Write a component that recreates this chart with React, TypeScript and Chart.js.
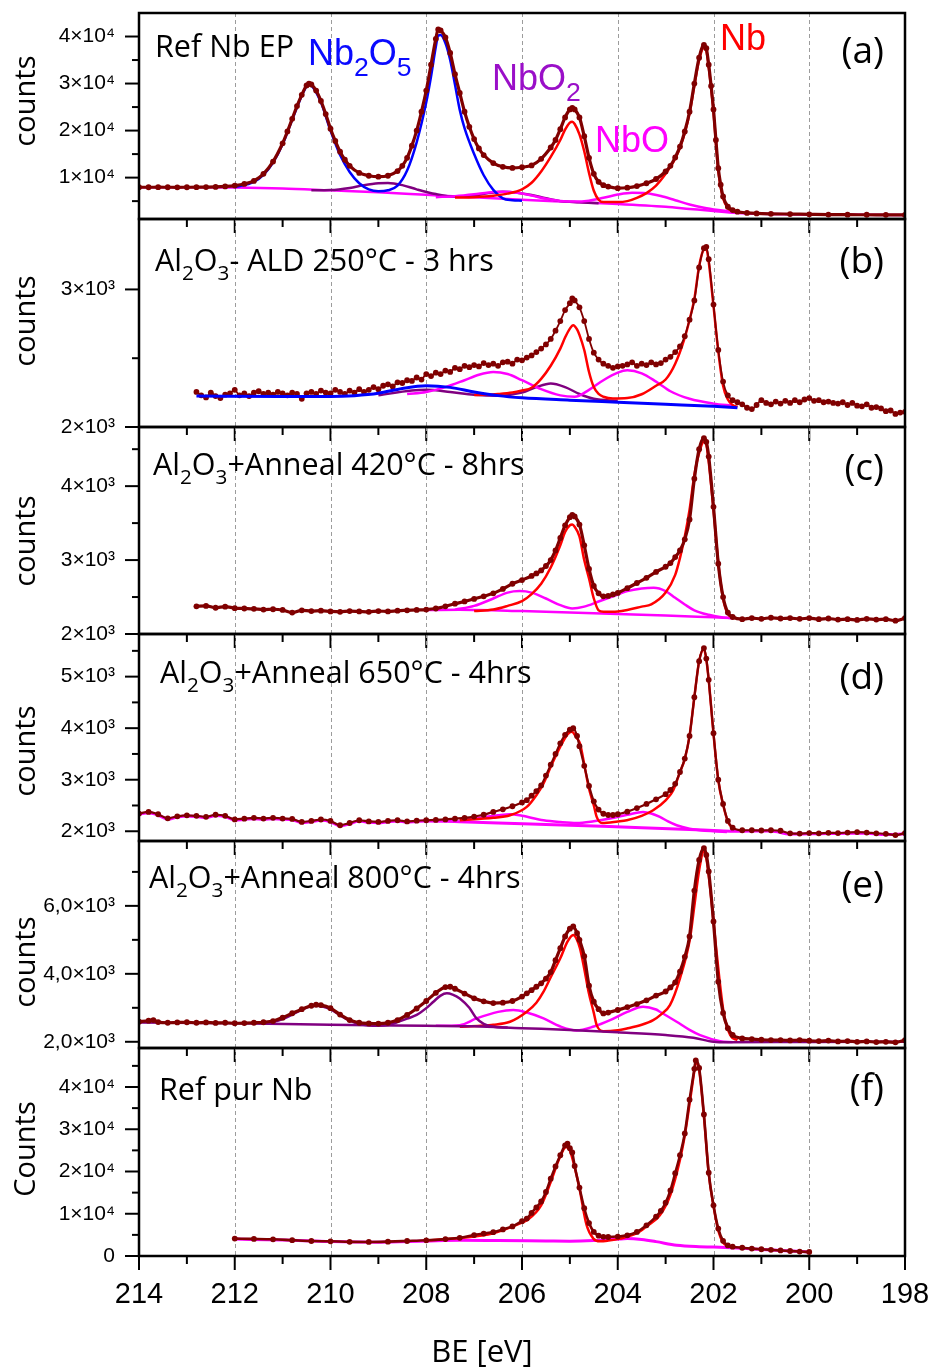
import React, { useEffect, useRef } from 'react';
import { Chart, registerables } from 'chart.js';
Chart.register(...registerables);

// ---------------- data (binding energy [eV], counts) ----------------
const aData: [number, number][] = [[214.0,7950],[213.8,7950],[213.6,7960],[213.4,7950],[213.2,7940],[213.0,7950],[212.8,7960],[212.6,7980],[212.4,8020],[212.2,8120],[212.0,8300],[211.8,8650],[211.6,9300],[211.4,10800],[211.2,13400],[211.0,17300],[210.9,19800],[210.8,22500],[210.7,25200],[210.6,27600],[210.5,29600],[210.45,30000],[210.4,29800],[210.3,28500],[210.2,26300],[210.1,23500],[210.0,20400],[209.9,17800],[209.8,15500],[209.7,13800],[209.6,12500],[209.4,11000],[209.2,10400],[209.0,10200],[208.8,10400],[208.6,11400],[208.5,12500],[208.4,14200],[208.3,16800],[208.2,20000],[208.1,24000],[208.0,28500],[207.9,34000],[207.8,39500],[207.75,41500],[207.7,41300],[207.6,39800],[207.5,36500],[207.4,32000],[207.3,28000],[207.2,24000],[207.1,20800],[207.0,18200],[206.9,16200],[206.8,14800],[206.6,13100],[206.4,12300],[206.2,12050],[206.0,12200],[205.8,12600],[205.6,14000],[205.4,16400],[205.3,18000],[205.2,20300],[205.1,22800],[205.0,24500],[204.95,24800],[204.9,24500],[204.8,22800],[204.7,18800],[204.6,14200],[204.5,10800],[204.4,9100],[204.3,8400],[204.2,8100],[204.0,7750],[203.8,7850],[203.6,8200],[203.4,8800],[203.2,9700],[203.0,11300],[202.9,12500],[202.8,14300],[202.7,16600],[202.6,19800],[202.5,24000],[202.4,30000],[202.3,35500],[202.2,38200],[202.15,37500],[202.1,34000],[202.05,29500],[202.0,24500],[201.95,18000],[201.9,12000],[201.85,8500],[201.8,6000],[201.7,3800],[201.6,3100],[201.5,2750],[201.3,2500],[201.1,2380],[200.8,2300],[200.4,2250],[200.0,2200],[199.6,2150],[199.2,2120],[198.8,2100],[198.4,2080],[198.0,2060]];
const aNb2O5: [number, number][] = [[212.0,7950],[211.6,9100],[211.4,10600],[211.2,13200],[211.0,17100],[210.8,22300],[210.6,27400],[210.5,29400],[210.45,29800],[210.4,29600],[210.2,26000],[210.0,20000],[209.8,14800],[209.6,11200],[209.4,8800],[209.2,7500],[209.0,7100],[208.8,7300],[208.6,8300],[208.4,11500],[208.2,17500],[208.0,26000],[207.9,31500],[207.8,37800],[207.75,40200],[207.7,40300],[207.6,38600],[207.5,35000],[207.4,29800],[207.3,24400],[207.2,20500],[207.0,15000],[206.8,10500],[206.6,7400],[206.4,5600],[206.2,5200],[206.0,5100]];
const aNbO2: [number, number][] = [[210.4,7300],[210.0,7350],[209.6,7800],[209.3,8400],[209.0,8800],[208.8,8850],[208.5,8400],[208.2,7500],[207.8,6500],[207.4,5950],[207.0,6150],[206.7,6700],[206.4,7000],[206.1,6800],[205.8,6300],[205.5,5600],[205.2,5000],[204.8,4750],[204.4,4550]];
const aNbO: [number, number][] = [[207.8,5850],[207.4,6050],[207.0,6450],[206.7,6850],[206.4,7000],[206.1,6800],[205.8,6200],[205.5,5500],[205.2,5050],[204.9,4900],[204.6,5100],[204.3,5700],[204.0,6400],[203.7,6800],[203.4,6700],[203.1,6100],[202.8,5200],[202.5,4300],[202.2,3600],[201.9,3100],[201.6,2700],[201.3,2450]];
const aNb: [number, number][] = [[207.4,5750],[207.0,5850],[206.6,6150],[206.3,6600],[206.0,7500],[205.8,8900],[205.6,11300],[205.4,14400],[205.2,18000],[205.1,20200],[205.0,21700],[204.95,21900],[204.9,21400],[204.8,19200],[204.7,15600],[204.6,11000],[204.5,7200],[204.4,5300],[204.3,4800],[204.0,4800],[203.8,5000],[203.6,5700],[203.4,6700],[203.2,8300],[203.0,10800],[202.8,14000],[202.7,16400],[202.6,19500],[202.5,23700],[202.4,29500],[202.3,35000],[202.2,37600],[202.15,37000],[202.1,33500],[202.05,29000],[202.0,24000],[201.95,17500],[201.9,11500],[201.85,8000],[201.8,5600],[201.7,3500],[201.6,2900],[201.4,2550]];
const aBg: [number, number][] = [[214.0,7950],[213.0,7950],[212.0,7900],[211.0,7700],[210.0,7300],[209.0,6900],[208.0,6350],[207.0,5800],[206.0,5300],[205.0,4850],[204.0,4400],[203.0,3800],[202.5,3350],[202.0,2900],[201.5,2500],[201.0,2300],[200.0,2150],[199.0,2080],[198.0,2050]];

const bData: [number, number][] = [[212.8,2255],[212.7,2230],[212.6,2215],[212.5,2250],[212.4,2225],[212.3,2210],[212.2,2235],[212.1,2245],[212.0,2270],[211.9,2230],[211.8,2245],[211.7,2225],[211.6,2250],[211.5,2260],[211.4,2240],[211.3,2250],[211.2,2235],[211.1,2255],[211.0,2245],[210.9,2230],[210.8,2250],[210.7,2240],[210.6,2205],[210.5,2245],[210.4,2255],[210.3,2240],[210.2,2265],[210.1,2250],[210.0,2245],[209.9,2270],[209.8,2255],[209.7,2240],[209.6,2265],[209.5,2250],[209.4,2275],[209.3,2255],[209.2,2270],[209.1,2290],[209.0,2275],[208.9,2300],[208.8,2310],[208.7,2295],[208.6,2325],[208.5,2320],[208.4,2340],[208.3,2335],[208.2,2360],[208.1,2345],[208.0,2385],[207.9,2370],[207.8,2395],[207.7,2385],[207.6,2410],[207.5,2400],[207.4,2430],[207.3,2420],[207.2,2445],[207.1,2435],[207.0,2450],[206.9,2440],[206.8,2465],[206.7,2450],[206.6,2460],[206.5,2445],[206.4,2470],[206.3,2475],[206.2,2460],[206.1,2490],[206.0,2485],[205.9,2505],[205.8,2520],[205.7,2545],[205.6,2570],[205.5,2600],[205.4,2640],[205.3,2700],[205.2,2770],[205.1,2850],[205.0,2900],[204.95,2935],[204.9,2920],[204.8,2870],[204.7,2770],[204.6,2640],[204.5,2540],[204.4,2490],[204.3,2460],[204.2,2445],[204.1,2430],[204.0,2440],[203.9,2445],[203.8,2455],[203.7,2470],[203.6,2445],[203.5,2460],[203.4,2450],[203.3,2470],[203.2,2455],[203.1,2465],[203.0,2490],[202.9,2510],[202.8,2545],[202.7,2585],[202.6,2660],[202.5,2780],[202.4,2920],[202.3,3160],[202.2,3300],[202.15,3310],[202.1,3220],[202.0,2890],[201.9,2560],[201.8,2330],[201.7,2230],[201.6,2195],[201.5,2180],[201.4,2165],[201.3,2140],[201.2,2130],[201.1,2160],[201.0,2195],[200.9,2175],[200.8,2165],[200.7,2185],[200.6,2170],[200.5,2190],[200.4,2175],[200.3,2195],[200.2,2180],[200.1,2200],[200.0,2210],[199.9,2190],[199.8,2195],[199.7,2180],[199.6,2185],[199.5,2175],[199.4,2170],[199.3,2180],[199.2,2160],[199.1,2175],[199.0,2155],[198.9,2150],[198.8,2165],[198.7,2140],[198.6,2145],[198.5,2135],[198.4,2115],[198.3,2120],[198.2,2095],[198.1,2105],[198.0,2110]];
const bNb2O5: [number, number][] = [[212.8,2225],[211.0,2222],[210.0,2222],[209.5,2228],[209.0,2245],[208.5,2280],[208.0,2300],[207.5,2288],[207.0,2255],[206.5,2228],[206.0,2212],[205.0,2195],[204.0,2180],[203.0,2165],[202.0,2150],[201.5,2140]];
const bNbO: [number, number][] = [[208.4,2240],[208.0,2255],[207.6,2290],[207.2,2340],[206.9,2380],[206.6,2400],[206.3,2385],[206.0,2340],[205.6,2275],[205.2,2230],[204.9,2220],[204.6,2270],[204.3,2340],[204.0,2395],[203.8,2412],[203.5,2390],[203.2,2330],[202.9,2260],[202.5,2205],[202.0,2170],[201.6,2155]];
const bNbO2: [number, number][] = [[209.0,2230],[208.3,2265],[208.0,2270],[207.5,2255],[207.0,2235],[206.5,2228],[206.0,2250],[205.7,2290],[205.4,2316],[205.1,2290],[204.8,2240],[204.5,2205],[204.0,2190]];
const bNb: [number, number][] = [[207.0,2232],[206.5,2240],[206.2,2250],[206.0,2265],[205.8,2285],[205.6,2350],[205.4,2445],[205.2,2570],[205.1,2650],[205.0,2715],[204.93,2740],[204.85,2710],[204.8,2670],[204.7,2560],[204.6,2400],[204.5,2290],[204.4,2240],[204.3,2220],[204.1,2207],[203.8,2210],[203.5,2238],[203.2,2300],[203.0,2345],[202.8,2460],[202.6,2650],[202.5,2780],[202.4,2930],[202.3,3170],[202.2,3290],[202.15,3295],[202.1,3200],[202.0,2880],[201.9,2550],[201.8,2300],[201.7,2200],[201.6,2160],[201.5,2145]];

const cData: [number, number][] = [[212.8,2375],[212.6,2380],[212.4,2355],[212.2,2370],[212.0,2350],[211.8,2345],[211.6,2340],[211.4,2330],[211.2,2335],[211.0,2325],[210.8,2290],[210.6,2320],[210.4,2310],[210.2,2315],[210.0,2305],[209.8,2300],[209.6,2310],[209.4,2305],[209.2,2300],[209.0,2310],[208.8,2305],[208.6,2315],[208.4,2320],[208.2,2325],[208.0,2330],[207.8,2345],[207.6,2375],[207.4,2410],[207.2,2440],[207.0,2475],[206.8,2510],[206.6,2550],[206.4,2610],[206.2,2680],[206.0,2730],[205.8,2785],[205.7,2820],[205.6,2860],[205.5,2920],[205.4,3000],[205.3,3130],[205.2,3300],[205.1,3470],[205.0,3580],[204.95,3612],[204.9,3590],[204.8,3480],[204.7,3200],[204.6,2880],[204.5,2650],[204.4,2550],[204.3,2510],[204.2,2515],[204.1,2535],[204.0,2555],[203.8,2620],[203.6,2690],[203.4,2760],[203.2,2840],[203.0,2910],[202.9,2960],[202.8,3040],[202.7,3130],[202.6,3280],[202.5,3550],[202.4,4100],[202.3,4500],[202.2,4650],[202.15,4600],[202.1,4400],[202.0,3720],[201.9,2950],[201.8,2500],[201.7,2290],[201.6,2230],[201.4,2200],[201.2,2215],[201.0,2205],[200.8,2220],[200.6,2210],[200.4,2215],[200.2,2205],[200.0,2215],[199.8,2200],[199.6,2210],[199.4,2195],[199.2,2200],[199.0,2190],[198.8,2205],[198.6,2195],[198.4,2200],[198.2,2180],[198.0,2215]];
const cNb: [number, number][] = [[207.0,2310],[206.6,2330],[206.3,2380],[206.0,2445],[205.8,2540],[205.6,2680],[205.4,2900],[205.2,3200],[205.1,3380],[205.0,3470],[204.95,3480],[204.9,3450],[204.8,3320],[204.7,3000],[204.6,2750],[204.5,2480],[204.4,2320],[204.3,2300],[204.0,2305],[203.8,2325],[203.5,2370],[203.3,2400],[203.0,2560],[202.8,2800],[202.7,3030],[202.6,3320],[202.5,3680],[202.4,4150],[202.3,4450],[202.2,4600],[202.15,4560],[202.1,4330],[202.0,3680],[201.9,2960],[201.8,2480],[201.7,2270],[201.6,2230]];
const cNbO: [number, number][] = [[207.4,2330],[207.0,2380],[206.6,2480],[206.3,2560],[206.05,2580],[205.8,2560],[205.5,2480],[205.2,2390],[204.95,2345],[204.7,2370],[204.4,2440],[204.1,2510],[203.8,2580],[203.5,2615],[203.25,2625],[203.0,2580],[202.8,2490],[202.6,2400],[202.4,2320],[202.1,2260],[201.8,2225],[201.6,2215]];
const cBg: [number, number][] = [[208.0,2325],[207.3,2328],[206.0,2310],[205.0,2290],[204.0,2270],[203.0,2250],[202.0,2225],[201.6,2215]];

const dData: [number, number][] = [[214.0,2344],[213.8,2376],[213.6,2330],[213.4,2250],[213.2,2290],[213.0,2310],[212.8,2300],[212.6,2280],[212.4,2320],[212.2,2300],[212.0,2230],[211.8,2245],[211.6,2260],[211.4,2247],[211.2,2260],[211.0,2247],[210.8,2240],[210.6,2181],[210.4,2200],[210.2,2228],[210.0,2200],[209.8,2117],[209.6,2160],[209.4,2214],[209.2,2190],[209.0,2181],[208.8,2200],[208.6,2214],[208.4,2190],[208.2,2205],[208.0,2214],[207.8,2220],[207.6,2230],[207.4,2245],[207.2,2260],[207.0,2285],[206.8,2320],[206.6,2376],[206.4,2425],[206.2,2485],[206.0,2560],[205.9,2603],[205.8,2690],[205.7,2780],[205.6,2890],[205.5,3080],[205.4,3290],[205.3,3500],[205.2,3706],[205.1,3870],[205.0,3970],[204.93,3998],[204.85,3850],[204.8,3650],[204.7,3270],[204.6,2880],[204.5,2580],[204.4,2420],[204.3,2340],[204.2,2315],[204.1,2315],[204.0,2330],[203.8,2380],[203.6,2450],[203.4,2530],[203.2,2620],[203.0,2720],[202.9,2800],[202.8,2920],[202.7,3150],[202.6,3410],[202.5,3850],[202.4,4600],[202.3,5300],[202.2,5554],[202.15,5350],[202.1,4938],[202.0,3901],[201.9,3000],[201.8,2530],[201.7,2200],[201.6,2070],[201.4,2020],[201.2,2020],[201.0,2015],[200.8,2020],[200.6,2010],[200.4,1960],[200.2,1955],[200.0,1965],[199.8,1960],[199.6,1970],[199.4,1965],[199.2,1975],[199.0,1985],[198.8,1975],[198.6,1960],[198.4,1950],[198.2,1925],[198.0,1965]];
const dNb: [number, number][] = [[207.3,2214],[206.6,2260],[206.25,2311],[205.9,2473],[205.7,2700],[205.55,2928],[205.4,3250],[205.2,3640],[205.05,3880],[204.96,3932],[204.85,3800],[204.79,3706],[204.7,3300],[204.61,2862],[204.5,2500],[204.44,2279],[204.33,2161],[204.0,2190],[203.81,2214],[203.5,2300],[203.26,2408],[203.0,2600],[202.84,2798],[202.7,3150],[202.6,3400],[202.5,3850],[202.4,4600],[202.3,5300],[202.2,5530],[202.15,5330],[202.1,4930],[202.0,3890],[201.9,2990],[201.8,2520],[201.7,2190],[201.6,2050]];
const dNbO: [number, number][] = [[207.3,2214],[206.9,2260],[206.5,2310],[206.25,2331],[206.0,2300],[205.55,2214],[205.2,2180],[204.86,2161],[204.5,2195],[204.16,2247],[203.8,2320],[203.47,2376],[203.3,2345],[203.12,2279],[202.95,2190],[202.77,2117],[202.5,2050],[202.28,2019],[202.0,2000],[201.72,1987]];
const dBg: [number, number][] = [[214.0,2330],[213.8,2360],[213.6,2315],[213.4,2235],[213.2,2275],[213.0,2295],[212.8,2285],[212.6,2265],[212.4,2305],[212.2,2285],[212.0,2215],[211.8,2230],[211.6,2245],[211.4,2232],[211.2,2245],[211.0,2232],[210.8,2225],[210.6,2166],[210.4,2185],[210.2,2213],[210.0,2185],[209.8,2102],[209.6,2145],[209.4,2199],[209.2,2175],[209.0,2166],[208.8,2185],[208.6,2199],[208.4,2175],[208.2,2190],[208.0,2199],[207.6,2195],[207.3,2185],[206.5,2160],[205.5,2130],[204.5,2100],[203.5,2070],[202.5,2035],[202.0,2015],[201.6,2000],[201.2,2005],[200.8,2005],[200.4,1945],[200.0,1950],[199.6,1955],[199.2,1960],[198.8,1960],[198.4,1935],[198.0,1950]];

const eData: [number, number][] = [[214.0,2590],[213.8,2620],[213.7,2640],[213.6,2580],[213.4,2560],[213.2,2570],[213.0,2575],[212.8,2560],[212.6,2570],[212.4,2555],[212.2,2560],[212.0,2545],[211.8,2550],[211.6,2560],[211.4,2575],[211.2,2610],[211.0,2710],[210.8,2840],[210.6,2960],[210.4,3060],[210.3,3090],[210.2,3080],[210.0,2990],[209.8,2800],[209.6,2640],[209.4,2560],[209.2,2540],[209.0,2535],[208.8,2560],[208.6,2640],[208.4,2790],[208.2,2980],[208.0,3200],[207.8,3440],[207.6,3610],[207.5,3620],[207.4,3560],[207.2,3420],[207.0,3280],[206.8,3190],[206.6,3140],[206.4,3150],[206.2,3200],[206.0,3330],[205.9,3425],[205.8,3520],[205.7,3620],[205.6,3720],[205.5,3860],[205.4,4050],[205.3,4400],[205.2,4752],[205.1,5100],[205.0,5330],[204.93,5393],[204.85,5200],[204.8,5000],[204.7,4520],[204.6,3650],[204.5,3180],[204.4,2960],[204.3,2835],[204.2,2860],[204.0,2935],[203.8,3020],[203.6,3110],[203.4,3220],[203.2,3360],[203.0,3480],[202.9,3600],[202.8,3750],[202.7,4065],[202.6,4500],[202.5,5100],[202.4,6450],[202.3,7350],[202.2,7700],[202.15,7500],[202.1,7015],[202.0,5540],[201.9,3770],[201.8,2850],[201.7,2400],[201.6,2200],[201.4,2100],[201.2,2080],[201.0,2060],[200.8,2050],[200.6,2050],[200.4,2040],[200.2,2050],[200.0,2030],[199.8,2020],[199.6,2035],[199.4,2010],[199.2,2020],[199.0,2000],[198.8,2010],[198.6,1990],[198.4,2000],[198.2,1985],[198.0,2047]];
const eNbO2: [number, number][] = [[211.5,2550],[211.2,2590],[211.0,2670],[210.8,2800],[210.6,2940],[210.45,3030],[210.3,3060],[210.15,3030],[210.0,2950],[209.8,2780],[209.6,2620],[209.4,2520],[209.2,2480],[209.0,2470],[208.8,2490],[208.6,2580],[208.4,2680],[208.2,2790],[208.0,2990],[207.85,3180],[207.7,3360],[207.57,3425],[207.45,3390],[207.3,3277],[207.1,3000],[206.95,2687],[206.8,2530],[206.6,2442],[206.3,2420]];
const eBg: [number, number][] = [[214.0,2570],[212.0,2545],[210.0,2500],[208.0,2470],[207.0,2455],[206.0,2400],[205.0,2350],[204.0,2280],[203.0,2200],[202.42,2118],[202.0,2000],[201.7,1985],[200.0,1995],[198.0,2000]];
const eNb: [number, number][] = [[207.3,2442],[206.6,2500],[206.25,2590],[205.9,2885],[205.7,3150],[205.55,3475],[205.4,3900],[205.2,4457],[205.05,4950],[204.93,5145],[204.85,5000],[204.79,4752],[204.7,4150],[204.61,3475],[204.5,2850],[204.44,2490],[204.3,2313],[204.0,2340],[203.81,2392],[203.5,2500],[203.26,2637],[203.1,2800],[202.91,3080],[202.7,3868],[202.49,5048],[202.4,6000],[202.3,7050],[202.2,7605],[202.15,7400],[202.07,6522],[201.93,4555],[201.79,2885],[201.65,2196],[201.5,2050]];
const eNbO: [number, number][] = [[207.8,2470],[207.3,2490],[206.95,2687],[206.5,2880],[206.18,2932],[205.9,2860],[205.55,2687],[205.2,2450],[204.86,2333],[204.5,2450],[204.16,2637],[203.8,2880],[203.47,3032],[203.2,2950],[203.12,2885],[202.77,2590],[202.5,2350],[202.28,2196],[201.86,2018],[201.6,1990]];

const fData: [number, number][] = [[212.0,4120],[211.6,4050],[211.2,3950],[210.8,3750],[210.4,3550],[210.0,3480],[209.6,3350],[209.2,3320],[208.8,3400],[208.4,3550],[208.0,3716],[207.6,4000],[207.3,4300],[207.0,4950],[206.8,5300],[206.6,5650],[206.4,6300],[206.2,7000],[206.0,8250],[205.9,8850],[205.8,10200],[205.7,11500],[205.6,12900],[205.5,15150],[205.4,18300],[205.3,21200],[205.2,23840],[205.1,26200],[205.05,26600],[205.0,25500],[204.95,24500],[204.9,21300],[204.8,16200],[204.7,11300],[204.6,7800],[204.5,5700],[204.4,4800],[204.3,4550],[204.2,4500],[204.0,4600],[203.8,4900],[203.6,5700],[203.4,7270],[203.2,9300],[203.1,10700],[203.0,12600],[202.9,15500],[202.8,19600],[202.7,23840],[202.6,29000],[202.5,37000],[202.4,44300],[202.37,46300],[202.3,44500],[202.2,33500],[202.1,19700],[202.0,12000],[201.9,6500],[201.8,3600],[201.7,2500],[201.6,2200],[201.4,1950],[201.2,1750],[201.0,1600],[200.8,1450],[200.6,1320],[200.4,1180],[200.2,1050],[200.0,950]];
const fNb: [number, number][] = [[208.0,3700],[207.3,4260],[206.6,5400],[206.0,7900],[205.9,8450],[205.6,12000],[205.4,17500],[205.2,23600],[205.08,25800],[205.0,25000],[204.9,21000],[204.8,16000],[204.65,7270],[204.51,4120],[204.37,3480],[204.2,3650],[203.95,4120],[203.6,5400],[203.4,7000],[203.12,9630],[202.9,14500],[202.7,22800],[202.6,28500],[202.5,36000],[202.4,43800],[202.37,45800],[202.3,44000],[202.2,33000],[202.1,19500],[202.0,11800],[201.9,6000],[201.8,3200],[201.7,2300]];
const fNbO: [number, number][] = [[212.0,4000],[211.0,3780],[210.0,3420],[209.0,3280],[208.0,3550],[207.3,3716],[206.5,3650],[205.5,3550],[205.0,3500],[204.5,3650],[204.0,4000],[203.8,4120],[203.5,3900],[203.2,3400],[202.77,2530],[202.3,2200],[202.0,2130],[201.5,1900],[201.0,1550],[200.5,1250],[200.0,950]];

// ---------------- axes ----------------
const X_MIN = 198, X_MAX = 214;
const X_MAJOR = [214, 212, 210, 208, 206, 204, 202, 200, 198];
const X_MINOR = [213, 211, 209, 207, 205, 203, 201, 199];
const X_GRID = [212, 210, 208, 206, 204, 202, 200];

const aYMajor = [10000, 20000, 30000, 40000];
const aYMinor = [5000, 15000, 25000, 35000];
const aYLabels = ['1×10⁴', '2×10⁴', '3×10⁴', '4×10⁴'];
const bYMajor = [2000, 3000];
const bYMinor = [2500];
const bYLabels = ['2×10³', '3×10³'];
const cYMajor = [2000, 3000, 4000];
const cYMinor = [2500, 3500, 4500];
const cYLabels = ['2×10³', '3×10³', '4×10³'];
const dYMajor = [2000, 3000, 4000, 5000];
const dYMinor = [2500, 3500, 4500, 5500];
const dYLabels = ['2×10³', '3×10³', '4×10³', '5×10³'];
const eYMajor = [2000, 4000, 6000];
const eYMinor = [3000, 5000, 7000];
const eYLabels = ['2,0×10³', '4,0×10³', '6,0×10³'];
const fYMajor = [0, 10000, 20000, 30000, 40000];
const fYMinor = [5000, 15000, 25000, 35000, 45000];
const fYLabels = ['0', '1×10⁴', '2×10⁴', '3×10⁴', '4×10⁴'];

// ---------------- styles / layout ----------------
const DARK = '#800000', RED = '#ff0000', MAG = '#ff00ff', PURP = '#800080', BLUE = '#0000ff';
const W = 934, LEFT = 139, RIGHT_PAD = 29, PAD_T = 15;
const SANS = '"Open Sans", "DejaVu Sans", sans-serif';
const ARIAL = '"Liberation Sans", Arial, sans-serif';

type Part = [string, boolean];
const al2o3 = (rest: string): Part[] => [['Al', false], ['2', true], ['O', false], ['3', true], [rest, false]];

const PANELS = [
  { top: 13, bottom: 219, yMin: 1200, yMax: 45000, major: aYMajor, minor: aYMinor, labels: aYLabels,
    series: [
      { pts: aBg, color: MAG, width: 2.5, order: 6 },
      { pts: aNbO2, color: PURP, width: 2.5, order: 5 },
      { pts: aNbO, color: MAG, width: 2.5, order: 4 },
      { pts: aNb2O5, color: BLUE, width: 2.5, order: 3 },
      { pts: aNb, color: RED, width: 2.5, order: 2 },
      { pts: aData, color: DARK, width: 3.2, order: 0, dots: true },
    ],
    title: [['Ref Nb EP', false]] as Part[], titleX: 155, titleY: 57, letter: '(a)', letterY: 63, yTitle: 'counts', yTitleY: 101,
    notes: [
      { parts: [['Nb', false], ['2', true], ['O', false], ['5', true]] as Part[], x: 308, y: 65, color: '#0a0aff' },
      { parts: [['NbO', false], ['2', true]] as Part[], x: 492, y: 90, color: '#9a0fc8' },
      { parts: [['NbO', false]] as Part[], x: 595, y: 152, color: '#ff00ff' },
      { parts: [['Nb', false]] as Part[], x: 720, y: 50, color: '#ff0000' },
    ] },
  { top: 219, bottom: 427, yMin: 2000, yMax: 3512, major: bYMajor, minor: bYMinor, labels: bYLabels,
    series: [
      { pts: bNbO2, color: PURP, width: 2.5, order: 5 },
      { pts: bNbO, color: MAG, width: 2.5, order: 4 },
      { pts: bNb, color: RED, width: 2.5, order: 3 },
      { pts: bData, color: DARK, width: 1.8, order: 1, dots: true },
      { pts: bNb2O5, color: BLUE, width: 3, order: 0 },
    ],
    title: al2o3('- ALD 250°C - 3 hrs'), titleX: 155, titleY: 271, letter: '(b)', letterY: 273, yTitle: 'counts', yTitleY: 321, notes: [] },
  { top: 427, bottom: 634, yMin: 2000, yMax: 4800, major: cYMajor, minor: cYMinor, labels: cYLabels,
    series: [
      { pts: cBg, color: MAG, width: 2.5, order: 5 },
      { pts: cNbO, color: MAG, width: 2.5, order: 4 },
      { pts: cNb, color: RED, width: 2.5, order: 3 },
      { pts: cData, color: DARK, width: 3.2, order: 0, dots: true },
    ],
    title: al2o3('+Anneal 420°C - 8hrs'), titleX: 153, titleY: 475, letter: '(c)', letterY: 480, yTitle: 'counts', yTitleY: 541, notes: [] },
  { top: 634, bottom: 841, yMin: 1811, yMax: 5827, major: dYMajor, minor: dYMinor, labels: dYLabels,
    series: [
      { pts: dBg, color: MAG, width: 3, order: 5 },
      { pts: dNbO, color: MAG, width: 2.5, order: 4 },
      { pts: dNb, color: RED, width: 2.5, order: 3 },
      { pts: dData, color: DARK, width: 2.2, order: 0, dots: true },
    ],
    title: al2o3('+Anneal 650°C - 4hrs'), titleX: 160, titleY: 683, letter: '(d)', letterY: 689, yTitle: 'counts', yTitleY: 751, notes: [] },
  { top: 841, bottom: 1048, yMin: 1817, yMax: 7909, major: eYMajor, minor: eYMinor, labels: eYLabels,
    series: [
      { pts: eNbO, color: MAG, width: 2.5, order: 5 },
      { pts: eNb, color: RED, width: 2.5, order: 4 },
      { pts: eBg, color: PURP, width: 2.5, order: 3 },
      { pts: eNbO2, color: PURP, width: 2.5, order: 2 },
      { pts: eData, color: DARK, width: 3.2, order: 0, dots: true },
    ],
    title: al2o3('+Anneal 800°C - 4hrs'), titleX: 149, titleY: 888, letter: '(e)', letterY: 897, yTitle: 'counts', yTitleY: 962, notes: [] },
  { top: 1048, bottom: 1256, yMin: 0, yMax: 49230, major: fYMajor, minor: fYMinor, labels: fYLabels,
    series: [
      { pts: fNbO, color: MAG, width: 3, order: 4 },
      { pts: fNb, color: RED, width: 2.5, order: 3 },
      { pts: fData, color: DARK, width: 2.6, order: 0, dots: true },
    ],
    title: [['Ref pur Nb', false]] as Part[], titleX: 159, titleY: 1100, letter: '(f)', letterY: 1100, yTitle: 'Counts', yTitleY: 1149, notes: [], last: true },
];

function drawParts(ctx: CanvasRenderingContext2D, parts: Part[], x: number, y: number, size: number, family: string, color: string, subScale: number, subDrop: number) {
  ctx.fillStyle = color;
  ctx.textAlign = 'left';
  ctx.textBaseline = 'alphabetic';
  let cx = x;
  for (const [t, sub] of parts) {
    const fs = sub ? size * subScale : size;
    ctx.font = `${fs}px ${family}`;
    ctx.fillText(t, cx, sub ? y + size * subDrop : y);
    cx += ctx.measureText(t).width;
  }
}

function makePlugin(p: any, canvasTop: number) {
  return {
    id: 'panelDecor',
    beforeDatasetsDraw(chart: any) {
      const { ctx, chartArea: a, scales } = chart;
      ctx.save();
      ctx.strokeStyle = '#9c9c9c';
      ctx.lineWidth = 1;
      ctx.setLineDash([4, 3]);
      for (const v of X_GRID) {
        const px = Math.round(scales.x.getPixelForValue(v)) + 0.5;
        ctx.beginPath();
        ctx.moveTo(px, a.top);
        ctx.lineTo(px, a.bottom);
        ctx.stroke();
      }
      ctx.restore();
    },
    afterDraw(chart: any) {
      const { ctx, chartArea: a, scales } = chart;
      ctx.save();
      ctx.strokeStyle = '#000';
      ctx.lineWidth = 2;
      const tick = (x1: number, y1: number, x2: number, y2: number) => {
        ctx.beginPath(); ctx.moveTo(x1, y1); ctx.lineTo(x2, y2); ctx.stroke();
      };
      for (const v of X_MAJOR) { const px = scales.x.getPixelForValue(v); tick(px, a.bottom, px, a.bottom + 14); }
      for (const v of X_MINOR) { const px = scales.x.getPixelForValue(v); tick(px, a.bottom, px, a.bottom + 8); }
      for (const v of p.major) { const py = scales.y.getPixelForValue(v); tick(a.left - 14, py, a.left, py); }
      for (const v of p.minor) { const py = scales.y.getPixelForValue(v); tick(a.left - 7, py, a.left, py); }
      ctx.lineWidth = 2.5;
      ctx.strokeRect(a.left, a.top, a.right - a.left, a.bottom - a.top);

      // texts
      drawParts(ctx, p.title, p.titleX, p.titleY - canvasTop, 30.5, SANS, '#000', 0.68, 0.3);
      ctx.font = `37px ${SANS}`;
      ctx.fillStyle = '#000';
      ctx.textAlign = 'right';
      ctx.textBaseline = 'alphabetic';
      ctx.fillText(p.letter, 884, p.letterY - canvasTop);
      for (const n of p.notes) drawParts(ctx, n.parts, n.x, n.y - canvasTop, 36, ARIAL, n.color, 0.74, 0.3);

      ctx.save();
      ctx.translate(35, p.yTitleY - canvasTop);
      ctx.rotate(-Math.PI / 2);
      ctx.font = `29px ${SANS}`;
      ctx.fillStyle = '#000';
      ctx.textAlign = 'center';
      ctx.textBaseline = 'alphabetic';
      ctx.fillText(p.yTitle, 0, 0);
      ctx.restore();

      if (p.last) {
        ctx.font = `31px ${SANS}`;
        ctx.fillStyle = '#000';
        ctx.textAlign = 'center';
        ctx.fillText('BE [eV]', 482, 1362 - canvasTop);
      }
      ctx.restore();
    },
  };
}

function Panel({ p }: { p: any }) {
  const ref = useRef<HTMLCanvasElement>(null);
  const padB = p.last ? 1369 - p.bottom : 22;
  const canvasTop = p.top - PAD_T;
  const h = p.bottom - p.top + PAD_T + padB;
  useEffect(() => {
    const labelMap = new Map<number, string>();
    p.major.forEach((v: number, i: number) => labelMap.set(v, p.labels[i]));
    const chart = new Chart(ref.current as HTMLCanvasElement, {
      type: 'scatter',
      data: {
        datasets: p.series.map((s: any) => ({
          data: s.pts.map(([x, y]: [number, number]) => ({ x, y })),
          showLine: true,
          borderColor: s.color,
          backgroundColor: s.color,
          borderWidth: s.width,
          pointRadius: s.dots ? 2.9 : 0,
          pointHoverRadius: 0,
          pointBackgroundColor: s.color,
          pointBorderWidth: 0,
          cubicInterpolationMode: 'monotone',
          order: s.order,
          clip: 0,
        })),
      },
      options: {
        animation: false,
        responsive: false,
        events: [],
        devicePixelRatio: 1,
        layout: { autoPadding: false, padding: { top: PAD_T, right: RIGHT_PAD, bottom: 0, left: 0 } },
        plugins: { legend: { display: false }, tooltip: { enabled: false } },
        scales: {
          x: {
            type: 'linear', min: X_MIN, max: X_MAX, reverse: true, position: 'bottom',
            grid: { display: false, drawTicks: true, tickLength: 22 },
            border: { display: false },
            ticks: {
              display: !!p.last, stepSize: 2, autoSkip: false, maxRotation: 0, padding: 0,
              color: '#000', font: { family: ARIAL, size: 29 },
              callback: (v: any) => String(v),
            },
            afterFit: (s: any) => { s.height = padB; },
          },
          y: {
            type: 'linear', min: p.yMin, max: p.yMax,
            grid: { display: false, drawTicks: true, tickLength: 24 },
            border: { display: false },
            afterBuildTicks: (s: any) => { s.ticks = [...p.major, ...p.minor].sort((u, v) => u - v).map((v) => ({ value: v })); },
            ticks: {
              autoSkip: false, padding: 0, color: '#000', font: { family: ARIAL, size: 21 },
              callback: (v: any) => labelMap.get(v) ?? '',
            },
            afterFit: (s: any) => { s.width = LEFT; },
          },
        },
      },
      plugins: [makePlugin(p, canvasTop)],
    } as any);
    return () => chart.destroy();
  }, []);
  return (
    <canvas ref={ref} width={W} height={h}
      style={{ position: 'absolute', left: 0, top: canvasTop, width: W, height: h, display: 'block' }} />
  );
}

export default function App() {
  return (
    <div style={{ position: 'absolute', left: 0, top: 0, width: W, height: 1369, background: '#fff', overflow: 'hidden' }}>
      {PANELS.map((p, i) => <Panel key={i} p={p} />)}
    </div>
  );
}
